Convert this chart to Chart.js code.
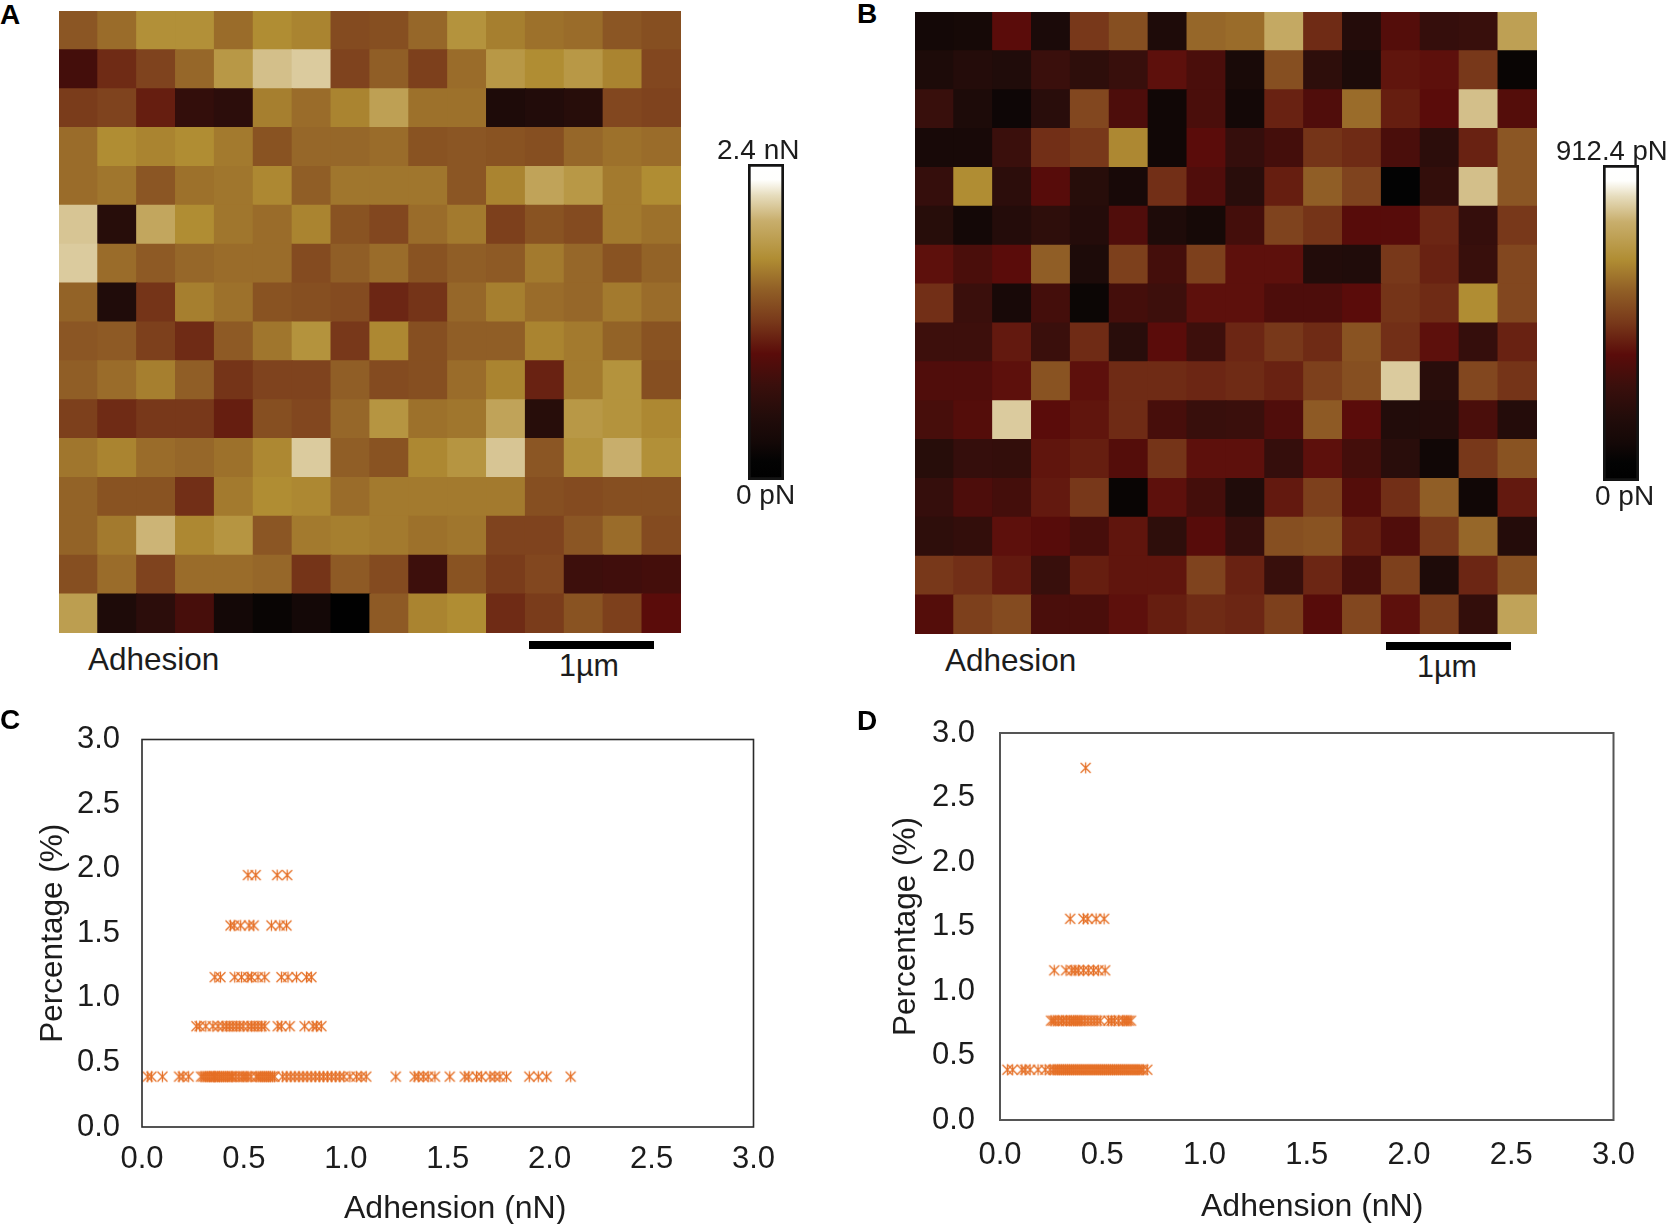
<!DOCTYPE html>
<html>
<head>
<meta charset="utf-8">
<title>Adhesion</title>
<script src="https://cdn.jsdelivr.net/npm/chart.js@4/dist/chart.umd.min.js"></script>
<style>
  html, body { margin: 0; padding: 0; background: #fff; }
  body { position: relative; width: 1670px; height: 1224px; overflow: hidden; font-family: "Liberation Sans", Arial, sans-serif; color: #1c1c1c; }
  canvas { position: absolute; }
  .txt { position: absolute; line-height: 1; white-space: nowrap; transform: translateY(-50%); }
  .letter { font-weight: bold; font-size: 28px; color: #000; }
  .bar { position: absolute; background: #000; }
</style>
</head>
<body>
<script>
// adhesion maps, fraction of the colour bar range, top row first
const mapA = [
  [.58,.63,.71,.71,.63,.70,.68,.55,.56,.62,.72,.67,.64,.63,.58,.56],
  [.33,.47,.53,.62,.74,.85,.87,.53,.60,.52,.63,.74,.70,.74,.68,.54],
  [.51,.53,.44,.27,.24,.67,.63,.68,.77,.64,.64,.18,.20,.22,.54,.53],
  [.63,.70,.68,.70,.66,.57,.62,.62,.63,.57,.58,.57,.56,.62,.64,.63],
  [.63,.65,.58,.64,.65,.69,.60,.65,.65,.65,.58,.68,.78,.74,.66,.70],
  [.86,.22,.79,.70,.65,.63,.68,.57,.54,.63,.66,.52,.57,.55,.66,.64],
  [.87,.63,.59,.62,.63,.63,.55,.60,.63,.57,.60,.59,.66,.62,.57,.61],
  [.61,.19,.49,.67,.64,.57,.56,.55,.46,.49,.62,.67,.63,.62,.66,.63],
  [.58,.59,.52,.47,.59,.65,.72,.50,.69,.56,.60,.60,.68,.66,.61,.57],
  [.60,.63,.67,.60,.49,.53,.53,.60,.55,.56,.63,.68,.45,.66,.72,.56],
  [.52,.47,.50,.50,.44,.56,.54,.62,.73,.64,.65,.78,.22,.74,.72,.69],
  [.65,.68,.63,.62,.64,.69,.87,.60,.57,.69,.73,.86,.58,.72,.82,.71],
  [.61,.57,.57,.48,.66,.70,.69,.63,.66,.66,.66,.66,.56,.55,.56,.56],
  [.61,.66,.83,.69,.73,.58,.66,.67,.66,.64,.65,.53,.53,.58,.63,.55],
  [.56,.63,.53,.63,.63,.62,.49,.59,.55,.31,.57,.51,.54,.31,.32,.33],
  [.76,.18,.24,.34,.12,.08,.12,.01,.59,.68,.70,.47,.51,.57,.52,.40],
]
const mapB = [
  [.12,.13,.40,.16,.50,.56,.18,.62,.63,.80,.47,.21,.38,.28,.29,.77],
  [.17,.21,.19,.30,.25,.29,.41,.35,.15,.56,.25,.17,.42,.41,.50,.08],
  [.29,.17,.10,.23,.54,.36,.11,.35,.12,.45,.37,.63,.44,.40,.85,.38],
  [.14,.14,.30,.48,.50,.69,.11,.40,.28,.33,.49,.47,.35,.24,.45,.58],
  [.28,.70,.24,.39,.22,.14,.48,.37,.23,.44,.60,.53,.06,.27,.85,.58],
  [.22,.12,.21,.25,.21,.37,.18,.13,.33,.53,.49,.39,.39,.46,.28,.50],
  [.41,.35,.40,.60,.17,.52,.33,.52,.41,.41,.20,.19,.50,.45,.29,.54],
  [.48,.30,.14,.33,.09,.33,.31,.41,.41,.36,.36,.40,.49,.47,.70,.54],
  [.31,.31,.43,.30,.47,.23,.40,.31,.46,.50,.47,.57,.48,.41,.28,.45],
  [.37,.37,.41,.57,.41,.47,.47,.46,.47,.45,.52,.56,.87,.23,.54,.49],
  [.34,.38,.87,.40,.42,.47,.34,.29,.30,.37,.59,.40,.20,.21,.35,.21],
  [.22,.28,.27,.42,.44,.38,.49,.41,.41,.28,.41,.33,.23,.11,.50,.57],
  [.28,.36,.33,.43,.50,.08,.41,.33,.19,.43,.52,.38,.48,.60,.11,.43],
  [.25,.27,.41,.39,.34,.42,.25,.39,.28,.56,.57,.44,.37,.50,.62,.21],
  [.50,.48,.43,.29,.44,.42,.42,.53,.45,.29,.46,.34,.52,.18,.46,.56],
  [.38,.52,.55,.35,.35,.41,.44,.47,.46,.52,.39,.54,.41,.51,.27,.78],
]

// scatter C, adhesion (nN) per percentage level
const levelsC = [0.39, 0.78, 1.16, 1.56, 1.95]
const adhesionC = [
  [.028,.046,.100,.182,.201,.229,.29,.30,.31,.32,.33,.34,.35,.355,.36,.37,.38,.39,.40,.41,.42,.43,.44,.445,
   .46,.475,.49,.50,.51,.52,.535,.56,.57,.58,.59,.60,.61,.62,.63,.64,.65,.69,.71,.73,.75,.77,.79,.81,.83,.85,
   .87,.89,.91,.93,.95,.97,.99,1.02,1.052,1.075,1.10,1.245,1.338,1.355,1.38,1.404,1.437,1.51,1.584,1.603,
   1.641,1.666,1.707,1.731,1.756,1.788,1.90,1.944,1.985,2.103],
  [.267,.283,.313,.348,.373,.397,.414,.430,.446,.463,.479,.496,.520,.537,.553,.569,.586,.602,.666,.684,.725,
   .798,.839,.856,.880],
  [.357,.385,.455,.488,.520,.537,.569,.602,.684,.716,.758,.807,.831],
  [.434,.452,.484,.525,.548,.635,.676,.709],
  [.520,.558,.663,.712],
]

// scatter D, same layout
const levelsD = [0.39, 0.77, 1.16, 1.56, 2.73]
const adhesionD = [
  [.036,.062,.107,.123,.147,.186,.221,.245,.26,.27,.28,.29,.30,.31,.32,.33,.34,.35,.36,.37,.38,.39,.40,.41,
   .42,.43,.44,.45,.46,.47,.48,.49,.50,.51,.52,.53,.54,.55,.56,.57,.58,.59,.60,.61,.62,.63,.64,.65,.66,.67,
   .68,.69,.70,.72],
  [.25,.26,.27,.285,.30,.31,.325,.34,.35,.36,.37,.38,.39,.40,.415,.43,.445,.46,.475,.49,.53,.545,.56,.58,.60,
   .61,.62,.63,.64],
  [.265,.323,.351,.367,.383,.408,.432,.457,.481,.514],
  [.343,.408,.429,.470,.509],
  [.419],
]

const tickLabels = ["0.0", "0.5", "1.0", "1.5", "2.0", "2.5", "3.0"]

// AFM colour bar, bottom to top
const barStops = [
  [0, "#000000"], [0.06, "#030303"], [0.12, "#140807"], [0.2, "#220c0a"], [0.3, "#3a0f0c"], [0.4, "#5a0c0a"],
  [0.5, "#78381a"], [0.6, "#905e26"], [0.7, "#b08d33"], [0.82, "#c8ae6c"], [0.9, "#e6dcbc"], [0.95, "#fffffd"], [1, "#ffffff"],
]

Chart.defaults.font.family = '"Liberation Sans", Arial, sans-serif'
Chart.defaults.color = "#1c1c1c"

function addCanvas(x, y, w, h) {
  const c = document.createElement("canvas")
  c.width = w
  c.height = h
  c.style.left = x + "px"
  c.style.top = y + "px"
  document.body.appendChild(c)
  return c
}

function addText(str, x, y, size, cls) {
  const d = document.createElement("div")
  d.className = cls || "txt"
  if (cls) d.classList.add("txt")
  d.textContent = str
  d.style.left = x + "px"
  d.style.top = y + "px"
  if (size) d.style.fontSize = size + "px"
  document.body.appendChild(d)
}

function addScaleBar(x, y, w, h) {
  const d = document.createElement("div")
  d.className = "bar"
  d.style.cssText = `left:${x}px;top:${y}px;width:${w}px;height:${h}px`
  document.body.appendChild(d)
}

function hexToRgb(hex) {
  return [1, 3, 5].map((i) => parseInt(hex.slice(i, i + 2), 16))
}

function colorAt(v) {
  for (let i = 1; i < barStops.length; i++) {
    if (v <= barStops[i][0]) {
      const [p0, c0] = barStops[i - 1]
      const [p1, c1] = barStops[i]
      const t = (v - p0) / (p1 - p0)
      const a = hexToRgb(c0)
      const b = hexToRgb(c1)
      return `rgb(${a.map((n, k) => Math.round(n + (b[k] - n) * t)).join(",")})`
    }
  }
  return "#ffffff"
}

// heat map: one square point per cell, a little overlap hides the seams
function drawMap(rows, x, y, size) {
  const points = []
  const colors = []
  rows.forEach((row, r) => {
    row.forEach((v, c) => {
      points.push({ x: c + 0.5, y: r + 0.5 })
      colors.push(colorAt(v))
    })
  })
  new Chart(addCanvas(x, y, size, size), {
    type: "scatter",
    data: {
      datasets: [{
        data: points,
        pointStyle: "rect",
        pointRadius: (size / rows.length / 2 + 0.6) * Math.SQRT2,
        pointBackgroundColor: colors,
        pointBorderWidth: 0,
      }],
    },
    options: {
      responsive: false,
      animation: false,
      devicePixelRatio: 1,
      layout: { autoPadding: false },
      plugins: { legend: { display: false }, tooltip: { enabled: false } },
      scales: {
        x: { display: false, min: 0, max: rows[0].length },
        y: { display: false, min: 0, max: rows.length, reverse: true },
      },
    },
  })
}

// colour bar: a single bar filled with the gradient
function drawColorBar(x, y, w, h) {
  new Chart(addCanvas(x, y, w, h), {
    type: "bar",
    data: {
      labels: ["range"],
      datasets: [{
        data: [1],
        barPercentage: 1,
        categoryPercentage: 1,
        borderColor: "#141414",
        borderWidth: 3,
        borderSkipped: false,
        backgroundColor: (ctx) => {
          const area = ctx.chart.chartArea
          if (!area) return "#000"
          const g = ctx.chart.ctx.createLinearGradient(0, area.bottom, 0, area.top)
          barStops.forEach((s) => g.addColorStop(s[0], s[1]))
          return g
        },
      }],
    },
    options: {
      responsive: false,
      animation: false,
      devicePixelRatio: 1,
      plugins: { legend: { display: false }, tooltip: { enabled: false } },
      scales: {
        x: { display: false },
        y: { display: false, min: 0, max: 1 },
      },
    },
  })
}

// Excel style star marker: an X with an upright stroke
function makeStar() {
  const c = document.createElement("canvas")
  c.width = 13
  c.height = 14
  const g = c.getContext("2d")
  g.strokeStyle = "#e56f25"
  g.lineWidth = 1.25
  g.filter = "blur(0.35px)"
  g.beginPath()
  g.moveTo(6.5, 1.5)
  g.lineTo(6.5, 12.5)
  g.moveTo(1.5, 2)
  g.lineTo(11.5, 12)
  g.moveTo(11.5, 2)
  g.lineTo(1.5, 12)
  g.stroke()
  return c
}
const star = makeStar()

const frame = {
  id: "frame",
  afterDraw(chart, args, opts) {
    const { left, top, width, height } = chart.chartArea
    const c = chart.ctx
    c.save()
    c.strokeStyle = opts.color
    c.lineWidth = opts.width
    c.strokeRect(left, top, width, height)
    c.restore()
  },
}

function drawScatter(levels, adhesion, box) {
  const datasets = levels.map((lvl, i) => ({
    data: adhesion[i].map((v) => ({ x: v, y: lvl })),
    pointStyle: star,
    pointRadius: 5,
    showLine: false,
  }))
  new Chart(addCanvas(box.x, box.y, box.w, box.h), {
    type: "scatter",
    data: { datasets },
    plugins: [frame],
    options: {
      responsive: false,
      animation: false,
      devicePixelRatio: 1,
      layout: { padding: { left: 0, top: box.top, right: box.right, bottom: 0 } },
      plugins: {
        legend: { display: false },
        tooltip: { enabled: false },
        frame: { color: box.frameColor, width: box.frameWidth },
      },
      scales: {
        x: {
          min: 0,
          max: 3,
          afterFit: (s) => { s.height = box.bottom },
          grid: { display: false, drawTicks: false },
          border: { display: false },
          ticks: {
            stepSize: 0.5,
            padding: box.xPad,
            maxRotation: 0,
            autoSkip: false,
            font: { size: 31 },
            callback: (v, i) => tickLabels[i],
          },
        },
        y: {
          min: 0,
          max: 3,
          afterFit: (s) => { s.width = box.left },
          grid: { display: false, drawTicks: false },
          border: { display: false },
          ticks: {
            stepSize: 0.5,
            padding: box.yPad,
            autoSkip: false,
            font: { size: 31 },
            callback: (v, i) => tickLabels[i],
          },
          title: {
            display: true,
            text: "Percentage (%)",
            font: { size: 31.5, lineHeight: 1 },
            padding: { top: box.yTitlePad, bottom: 0 },
          },
        },
      },
    },
  })
}

// panels A and B
drawMap(mapA, 59, 11, 622)
drawMap(mapB, 915, 12, 622)
drawColorBar(748, 164, 36, 316)
drawColorBar(1603, 165, 36, 316)

addText("2.4 nN", 717, 150, 28)
addText("0 pN", 736, 495, 28)
addText("912.4 pN", 1556, 151, 27.5)
addText("0 pN", 1595, 496, 28)
addText("Adhesion", 88, 660, 31.5)
addText("Adhesion", 945, 661, 31.5)
addText("1µm", 559, 665, 30.5)
addText("1µm", 1417, 666, 30.5)
addScaleBar(529, 641, 125, 8)
addScaleBar(1386, 642, 125, 8)

// panels C and D, canvas starts above the frame so the top tick label has room
drawScatter(levelsC, adhesionC, {
  x: 0, y: 680, w: 835, h: 544,
  left: 142, top: 59.5, right: 81.5, bottom: 97,
  xPad: 14, yPad: 22, yTitlePad: 38,
  frameColor: "#2a2a2a", frameWidth: 1.6,
})
drawScatter(levelsD, adhesionD, {
  x: 840, y: 680, w: 830, h: 544,
  left: 160, top: 53, right: 56.5, bottom: 104,
  xPad: 17, yPad: 25, yTitlePad: 51,
  frameColor: "#555555", frameWidth: 2,
})

addText("Adhension (nN)", 344, 1207, 32)
addText("Adhension (nN)", 1201, 1205, 32)

addText("A", 0, 15, 0, "letter")
addText("B", 857, 14, 0, "letter")
addText("C", 0, 720, 0, "letter")
addText("D", 857, 721, 0, "letter")
</script>
</body>
</html>
